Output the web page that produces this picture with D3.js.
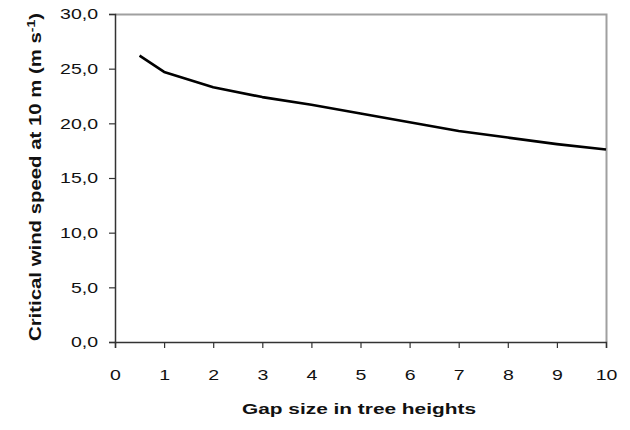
<!DOCTYPE html>
<html>
<head>
<meta charset="utf-8">
<script src="https://cdn.jsdelivr.net/npm/d3@7"></script>
<style>
  html, body { margin: 0; padding: 0; background: #fff; }
  svg { display: block; }
  text { font-family: "Liberation Sans", Arial, sans-serif; fill: #111; }
</style>
</head>
<body>
<svg id="chart" width="630" height="430"></svg>
<script>
// Data
const gapSize = [0.5, 1, 2, 3, 4, 5, 6, 7, 8, 9, 10];
const windSpeed = [26.2, 24.7, 23.3, 22.4, 21.7, 20.9, 20.1, 19.3, 18.7, 18.1, 17.6];
const xTicks = [0, 1, 2, 3, 4, 5, 6, 7, 8, 9, 10];
const yTicks = [0, 5, 10, 15, 20, 25, 30];
const xTitle = "Gap size in tree heights";
const yTitleMain = "Critical wind speed at 10 m (m s";
const yTitleSup = "-1";

(function () {
const svg = d3.select("#chart");
const pLeft = 115, pRight = 606, pTop = 14, pBottom = 342;

const x = d3.scaleLinear().domain([0, 10]).range([pLeft, pRight]);
const y = d3.scaleLinear().domain([0, 30]).range([pBottom, pTop]);

const stretch = 1.3;
function widen(sel, f) {
  sel.each(function () {
    const len = this.getComputedTextLength();
    d3.select(this).attr("textLength", len * f).attr("lengthAdjust", "spacingAndGlyphs");
  });
}

// Plot frame (top and right, gray)
svg.append("path")
  .attr("d", `M${pLeft},${pTop + 0.5}H${pRight + 0.5}V${pBottom}`)
  .attr("fill", "none").attr("stroke", "#a0a0a0").attr("stroke-width", 2);

// X axis
const xAxis = svg.append("g").attr("transform", `translate(0,${pBottom})`)
  .call(d3.axisBottom(x).tickValues(xTicks).tickSize(6).tickPadding(21).tickFormat(d3.format("d")));
xAxis.select(".domain").attr("stroke", "#333").attr("stroke-width", 1.5);
xAxis.selectAll(".tick line").attr("stroke", "#333").attr("stroke-width", 1.2);
xAxis.selectAll(".tick text").attr("font-size", 15).attr("fill", "#222")
  .attr("font-family", "Liberation Sans, Arial, sans-serif");
widen(xAxis.selectAll(".tick text"), stretch);

// Y axis
const yAxis = svg.append("g").attr("transform", `translate(${pLeft},0)`)
  .call(d3.axisLeft(y).tickValues(yTicks).tickSize(6).tickPadding(11)
    .tickFormat(d => d3.format(".1f")(d).replace(".", ",")));
yAxis.select(".domain").attr("stroke", "#333").attr("stroke-width", 1.5);
yAxis.selectAll(".tick line").attr("stroke", "#333").attr("stroke-width", 1.2);
yAxis.selectAll(".tick text").attr("font-size", 15).attr("fill", "#222")
  .attr("font-family", "Liberation Sans, Arial, sans-serif");
widen(yAxis.selectAll(".tick text"), stretch);

// Line
const line = d3.line().x((d, i) => x(gapSize[i])).y(d => y(d));
svg.append("path")
  .datum(windSpeed)
  .attr("d", line)
  .attr("fill", "none")
  .attr("stroke", "#000")
  .attr("stroke-width", 2.6)
  .attr("stroke-linejoin", "round");

// X title
svg.append("text")
  .attr("x", 359).attr("y", 414)
  .attr("text-anchor", "middle")
  .attr("font-size", 15).attr("font-weight", "bold")
  .attr("textLength", 234).attr("lengthAdjust", "spacingAndGlyphs")
  .text(xTitle);

// Y title
const yt = svg.append("text")
  .attr("transform", `translate(41,177) rotate(-90)`)
  .attr("text-anchor", "middle")
  .attr("font-size", 16).attr("font-weight", "bold")
  .attr("textLength", 328).attr("lengthAdjust", "spacingAndGlyphs");
yt.append("tspan").text(yTitleMain);
yt.append("tspan").attr("dy", -6).attr("font-size", 11).text(yTitleSup);
yt.append("tspan").attr("dy", 6).text(")");
})();
</script>
</body>
</html>
